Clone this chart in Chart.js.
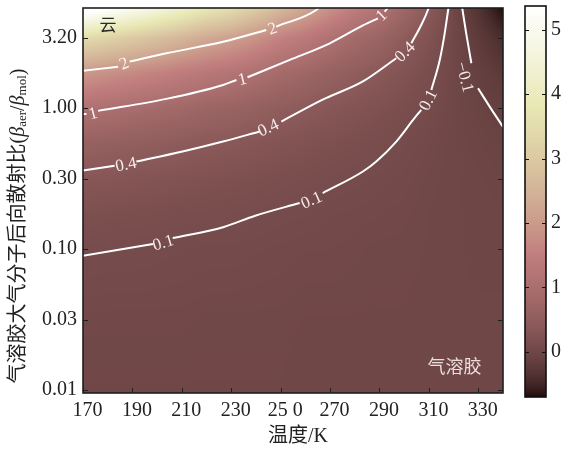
<!DOCTYPE html>
<html>
<head>
<meta charset="utf-8">
<script src="https://cdn.jsdelivr.net/npm/chart.js@4.4.1/dist/chart.umd.min.js"></script>
<style>
    html, body { margin: 0; padding: 0; background: #fff; }
    #wrap { position: relative; width: 564px; height: 450px; }
    #chart { position: absolute; left: 0; top: 0; }
    #cb { position: absolute; left: 505px; top: 0; }
</style>
</head>
<body>
<div id="wrap">
    <canvas id="chart" width="564" height="450"></canvas>
    <canvas id="cb" width="59" height="450"></canvas>
</div>
<script>
// axes \/
const xTicks = [170, 190, 210, 230, 250, 270, 290, 310, 330];
const xTickLabels = ['170', '190', '210', '230', '25 0', '270', '290', '310', '330'];
const yTicks = [0.01, 0.0316, 0.1, 0.316, 1, 3.16];
const yTickLabels = ['0.01', '0.03', '0.10', '0.30', '1.00', '3.20'];
const cbTicks = [0, 1, 2, 3, 4, 5];
const xMin = 170, xMax = 340;
const yMin = 0.00955, yMax = 5.135;
const cbMin = -0.70, cbMax = 5.37;
// axes /\

// field grid (temperature columns, ratio rows) \/
const fieldTemps = [170, 180, 190, 200, 210, 220, 230, 240, 250, 260, 270, 280, 290, 300, 310, 320, 330, 340];
const fieldRatios = [0.01, 0.0316, 0.1, 0.178, 0.316, 0.562, 1, 1.78, 3.16, 5.62];
const fieldValues = [
    [0.01, 0.01, 0.01, 0.01, 0.01, 0.01, 0.01, 0.01, 0.01, 0.00, 0.00, 0.00, 0.00, 0.00, 0.00, 0.00, 0.00, 0.00],
    [0.03, 0.03, 0.03, 0.03, 0.03, 0.02, 0.02, 0.02, 0.02, 0.01, 0.01, 0.01, 0.01, 0.01, 0.00, 0.00, 0.00, 0.00],
    [0.11, 0.10, 0.10, 0.09, 0.08, 0.07, 0.07, 0.06, 0.05, 0.04, 0.04, 0.03, 0.02, 0.02, 0.01, 0.00, -0.01, -0.01],
    [0.20, 0.18, 0.17, 0.16, 0.14, 0.13, 0.12, 0.11, 0.09, 0.08, 0.06, 0.05, 0.04, 0.03, 0.01, 0.00, -0.01, -0.02],
    [0.35, 0.33, 0.30, 0.28, 0.26, 0.23, 0.21, 0.19, 0.16, 0.14, 0.11, 0.09, 0.07, 0.05, 0.02, 0.00, -0.02, -0.04],
    [0.62, 0.58, 0.54, 0.50, 0.46, 0.41, 0.38, 0.33, 0.28, 0.24, 0.20, 0.16, 0.12, 0.08, 0.04, 0.00, -0.04, -0.08],
    [1.10, 1.03, 0.96, 0.89, 0.81, 0.73, 0.67, 0.59, 0.50, 0.43, 0.35, 0.28, 0.22, 0.15, 0.08, 0.00, -0.07, -0.14],
    [1.96, 1.83, 1.71, 1.58, 1.44, 1.30, 1.19, 1.05, 0.89, 0.77, 0.62, 0.50, 0.39, 0.27, 0.14, 0.01, -0.12, -0.24],
    [3.48, 3.25, 3.03, 2.81, 2.56, 2.31, 2.12, 1.86, 1.58, 1.36, 1.11, 0.88, 0.70, 0.47, 0.25, 0.01, -0.21, -0.43],
    [6.18, 5.79, 5.40, 5.00, 4.55, 4.10, 3.77, 3.32, 2.81, 2.42, 1.97, 1.57, 1.24, 0.84, 0.44, 0.02, -0.37, -0.76]
];
// field grid /\

// contour lines [T, ratio], null = gap for a label \/
const contour2 = [[170, 1.84], [184.2, 1.97], null, [188.9, 2.14], [203.7, 2.45], [226.7, 2.96], [244.2, 3.59], null,
    [248.2, 3.79], [264.4, 4.97], [266.5, 5.4]];
const contour2Labels = [[186.6, 2.08], [246.6, 3.69]];

const contour1 = [[170, 0.907], [171.4, 0.911], null, [176.1, 0.957], [203.7, 1.164], [226.7, 1.462], [232.1, 1.586], null,
    [236.6, 1.658], [253.7, 2.199], [269.9, 2.886], [283.3, 3.86], [289.4, 4.34], null, [292.1, 4.83], [294.2, 5.4]];
const contour1Labels = [[174.0, 0.922], [234.5, 1.612], [290.7, 4.58]];

const contour04 = [[170, 0.361], [182.8, 0.390], null, [191.6, 0.4185], [210.3, 0.493], [226.7, 0.580], [241.5, 0.683], null,
    [250.3, 0.804], [266.8, 1.145], [283.3, 1.548], [296.8, 2.26], null, [302.9, 2.886], [306.9, 3.89], [309.6, 4.97], [310.2, 5.4]];
const contour04Labels = [[187.3, 0.401], [244.9, 0.731], [300.2, 2.517]];

const contour01 = [[170, 0.0899], [198.3, 0.1088], null, [206.3, 0.120], [226.7, 0.1432], [239.7, 0.1727], [257.7, 0.2125], null,
    [267.0, 0.250], [283.3, 0.3556], [288.7, 0.4185], [296.8, 0.580], [303.6, 0.826], [306.9, 0.9725], null,
    [311.0, 1.348], [314.4, 2.199], [316.4, 3.397], [317.8, 4.97], [318.1, 5.4]];
const contour01Labels = [[202.4, 0.1117], [262.4, 0.2242], [309.6, 1.145]];

const contourM01 = [[323.3, 5.4], [325.1, 3.397], [327.2, 2.083], null, [329.9, 1.385], [334.6, 1.026], [340, 0.737]];
const contourM01Labels = [[324.6, 1.666]];
// contour lines /\

// region notes [T, ratio] \/
const cloudNote = [180.1, 3.77];
const aerosolNote = [320.4, 0.0143];
// region notes /\

const contours = [
    {level: '2', pts: contour2, labels: contour2Labels},
    {level: '1', pts: contour1, labels: contour1Labels},
    {level: '0.4', pts: contour04, labels: contour04Labels},
    {level: '0.1', pts: contour01, labels: contour01Labels},
    {level: '\u22120.1', pts: contourM01, labels: contourM01Labels}
];

const fam = "'Liberation Serif', 'Noto Sans CJK SC', serif";
Chart.defaults.font.family = fam;
Chart.defaults.color = '#222';

// matplotlib "pink" colormap
function pink(t) {
    t = Math.min(1, Math.max(0, t));
    const hr = t < 0.365079 ? 0.0416 + (1 - 0.0416) * t / 0.365079 : 1;
    const hg = t < 0.365079 ? 0 : (t < 0.746032 ? (t - 0.365079) / (0.746032 - 0.365079) : 1);
    const hb = t < 0.746032 ? 0 : (t - 0.746032) / (1 - 0.746032);
    return [hr, hg, hb].map(h => Math.round(Math.sqrt((2 * t + h) / 3) * 255));
}

function locate(arr, v) {
    if (v <= arr[0]) return [0, 0];
    for (let i = 0; i < arr.length - 1; i++) {
        if (v <= arr[i + 1]) return [i, (v - arr[i]) / (arr[i + 1] - arr[i])];
    }
    return [arr.length - 2, 1];
}

// paints the field under the lines (gouraud style shading between grid nodes)
const fieldPlugin = {
    id: 'field',
    beforeDatasetsDraw(chart) {
        const {ctx, chartArea: a, scales: {x, y}} = chart;
        const w = Math.round(a.right - a.left), h = Math.round(a.bottom - a.top);
        const img = ctx.createImageData(w, h);
        const logRows = fieldRatios.map(Math.log10);
        const cols = [];
        for (let i = 0; i < w; i++) cols.push(locate(fieldTemps, x.getValueForPixel(a.left + i + 0.5)));
        for (let j = 0; j < h; j++) {
            const [r0, fr] = locate(logRows, Math.log10(y.getValueForPixel(a.top + j + 0.5)));
            const lo = fieldValues[r0], hi = fieldValues[r0 + 1];
            for (let i = 0; i < w; i++) {
                const [c0, fc] = cols[i];
                const z = (lo[c0] * (1 - fc) + lo[c0 + 1] * fc) * (1 - fr) + (hi[c0] * (1 - fc) + hi[c0 + 1] * fc) * fr;
                const c = pink((z - cbMin) / (cbMax - cbMin));
                const k = (j * w + i) * 4;
                img.data[k] = c[0]; img.data[k + 1] = c[1]; img.data[k + 2] = c[2]; img.data[k + 3] = 255;
            }
        }
        ctx.putImageData(img, Math.round(a.left), Math.round(a.top));
    }
};

// labels on the lines, notes, frame and ticks
const overlayPlugin = {
    id: 'overlay',
    afterDatasetsDraw(chart) {
        const {ctx, chartArea: a, scales: {x, y}} = chart;
        ctx.save();
        ctx.font = '17px ' + fam;
        ctx.fillStyle = 'rgba(255,250,250,0.92)';
        ctx.textAlign = 'center';
        ctx.textBaseline = 'middle';
        contours.forEach(c => {
            const gaps = [];
            c.pts.forEach((p, i) => { if (p === null) gaps.push([c.pts[i - 1], c.pts[i + 1]]); });
            c.labels.forEach((lab, k) => {
                const [p1, p2] = gaps[k];
                let ang = Math.atan2(y.getPixelForValue(p2[1]) - y.getPixelForValue(p1[1]),
                    x.getPixelForValue(p2[0]) - x.getPixelForValue(p1[0]));
                if (ang > Math.PI / 2) ang -= Math.PI;
                if (ang < -Math.PI / 2) ang += Math.PI;
                ctx.save();
                ctx.translate(x.getPixelForValue(lab[0]), y.getPixelForValue(lab[1]));
                ctx.rotate(ang);
                ctx.fillText(c.level, 0, 1);
                ctx.restore();
            });
        });

        // region notes
        ctx.font = '17px ' + fam;
        ctx.fillStyle = '#2a2a2a';
        ctx.fillText('云', x.getPixelForValue(cloudNote[0]), y.getPixelForValue(cloudNote[1]));
        ctx.font = '18px ' + fam;
        ctx.fillStyle = '#eddede';
        ctx.fillText('气溶胶', x.getPixelForValue(aerosolNote[0]), y.getPixelForValue(aerosolNote[1]));

        // frame
        ctx.strokeStyle = '#1e1e1e';
        ctx.lineWidth = 1.6;
        ctx.strokeRect(a.left, a.top, a.right - a.left, a.bottom - a.top);

        // inward ticks
        ctx.lineWidth = 1;
        ctx.beginPath();
        yTicks.forEach(v => {
            const py = Math.round(y.getPixelForValue(v)) + 0.5;
            ctx.moveTo(a.left, py); ctx.lineTo(a.left + 5, py);
            ctx.moveTo(a.right, py); ctx.lineTo(a.right - 5, py);
        });
        xTicks.forEach(v => {
            const px = Math.round(x.getPixelForValue(v)) + 0.5;
            ctx.moveTo(px, a.bottom); ctx.lineTo(px, a.bottom - 5);
        });
        ctx.stroke();
        ctx.restore();
    },
    afterDraw(chart) {
        const ctx = chart.ctx;
        ctx.save();
        ctx.fillStyle = '#222';
        ctx.textBaseline = 'middle';

        // x title
        ctx.font = '20px ' + fam;
        ctx.textAlign = 'center';
        ctx.fillText('温度/K', 298, 437);

        // y title with subscripts
        const parts = [
            ['气溶胶大气分子后向散射比(', '20px ' + fam, 0],
            ['β', 'italic 20px ' + fam, 0],
            ['aer', '13px ' + fam, 4],
            ['/', '20px ' + fam, 0],
            ['β', 'italic 20px ' + fam, 0],
            ['mol', '13px ' + fam, 4],
            [')', '20px ' + fam, 0]
        ];
        let total = 0;
        parts.forEach(p => { ctx.font = p[1]; total += ctx.measureText(p[0]).width; });
        ctx.translate(19, 226);
        ctx.rotate(-Math.PI / 2);
        ctx.textAlign = 'left';
        let cx = -total / 2;
        parts.forEach(p => {
            ctx.font = p[1];
            ctx.fillText(p[0], cx, p[2]);
            cx += ctx.measureText(p[0]).width;
        });
        ctx.restore();
    }
};

const mainChart = new Chart(document.getElementById('chart'), {
    type: 'line',
    data: {
        datasets: contours.map(c => ({
            data: c.pts.map((p, i) => p ? {x: p[0], y: p[1]} : {x: c.pts[i - 1][0], y: null}),
            borderColor: '#ffffff',
            borderWidth: 2,
            pointRadius: 0,
            fill: false,
            spanGaps: false,
            cubicInterpolationMode: 'monotone'
        }))
    },
    options: {
        responsive: false,
        animation: false,
        devicePixelRatio: 1,
        layout: {padding: {left: 0, top: 8, right: 61, bottom: 0}},
        plugins: {legend: {display: false}, tooltip: {enabled: false}},
        scales: {
            x: {
                type: 'linear', min: xMin, max: xMax,
                grid: {display: false, drawTicks: false},
                border: {display: false},
                afterBuildTicks: s => { s.ticks = xTicks.map(v => ({value: v})); },
                afterFit: s => { s.height = 57; s.paddingLeft = 0; s.paddingRight = 0; },
                ticks: {
                    callback: (v, i) => xTickLabels[i],
                    padding: 6, labelOffset: 4.5, maxRotation: 0, autoSkip: false,
                    color: '#222', font: {size: 20}
                }
            },
            y: {
                type: 'logarithmic', min: yMin, max: yMax, bounds: 'data',
                grid: {display: false, drawTicks: false},
                border: {display: false},
                afterBuildTicks: s => { s.ticks = yTicks.map(v => ({value: v})); },
                afterFit: s => { s.width = 83; s.paddingTop = 0; s.paddingBottom = 0; },
                ticks: {
                    callback: (v, i) => yTickLabels[i],
                    padding: 6, autoSkip: false,
                    color: '#222', font: {size: 20}
                }
            }
        }
    },
    plugins: [fieldPlugin, overlayPlugin]
});

// colour bar \/
const colorbarPlugin = {
    id: 'colorbar',
    afterDraw(chart) {
        const {ctx, chartArea: a, scales: {y}} = chart;
        ctx.save();
        for (let py = Math.floor(a.top); py < a.bottom; py++) {
            const c = pink((y.getValueForPixel(py + 0.5) - cbMin) / (cbMax - cbMin));
            ctx.fillStyle = 'rgb(' + c.join(',') + ')';
            ctx.fillRect(a.left, py, a.right - a.left, 1);
        }
        ctx.strokeStyle = '#111';
        ctx.lineWidth = 1.6;
        ctx.strokeRect(a.left, a.top, a.right - a.left, a.bottom - a.top);
        ctx.lineWidth = 1;
        ctx.beginPath();
        cbTicks.forEach(v => {
            const py = Math.round(y.getPixelForValue(v)) + 0.5;
            ctx.moveTo(a.left, py); ctx.lineTo(a.left + 4, py);
            ctx.moveTo(a.right, py); ctx.lineTo(a.right - 4, py);
        });
        ctx.stroke();
        ctx.restore();
    }
};

new Chart(document.getElementById('cb'), {
    type: 'scatter',
    data: {datasets: []},
    options: {
        responsive: false,
        animation: false,
        devicePixelRatio: 1,
        layout: {padding: {left: 20, top: 6, right: 0, bottom: 53}},
        plugins: {legend: {display: false}, tooltip: {enabled: false}},
        scales: {
            x: {display: false, min: 0, max: 1},
            y: {
                type: 'linear', position: 'right', min: cbMin, max: cbMax,
                grid: {display: false, drawTicks: false},
                border: {display: false},
                afterBuildTicks: s => { s.ticks = cbTicks.map(v => ({value: v})); },
                afterFit: s => { s.width = 18; s.paddingTop = 0; s.paddingBottom = 0; },
                ticks: {padding: 5, color: '#222', font: {size: 20}}
            }
        }
    },
    plugins: [colorbarPlugin]
});
// colour bar /\
</script>
</body>
</html>
